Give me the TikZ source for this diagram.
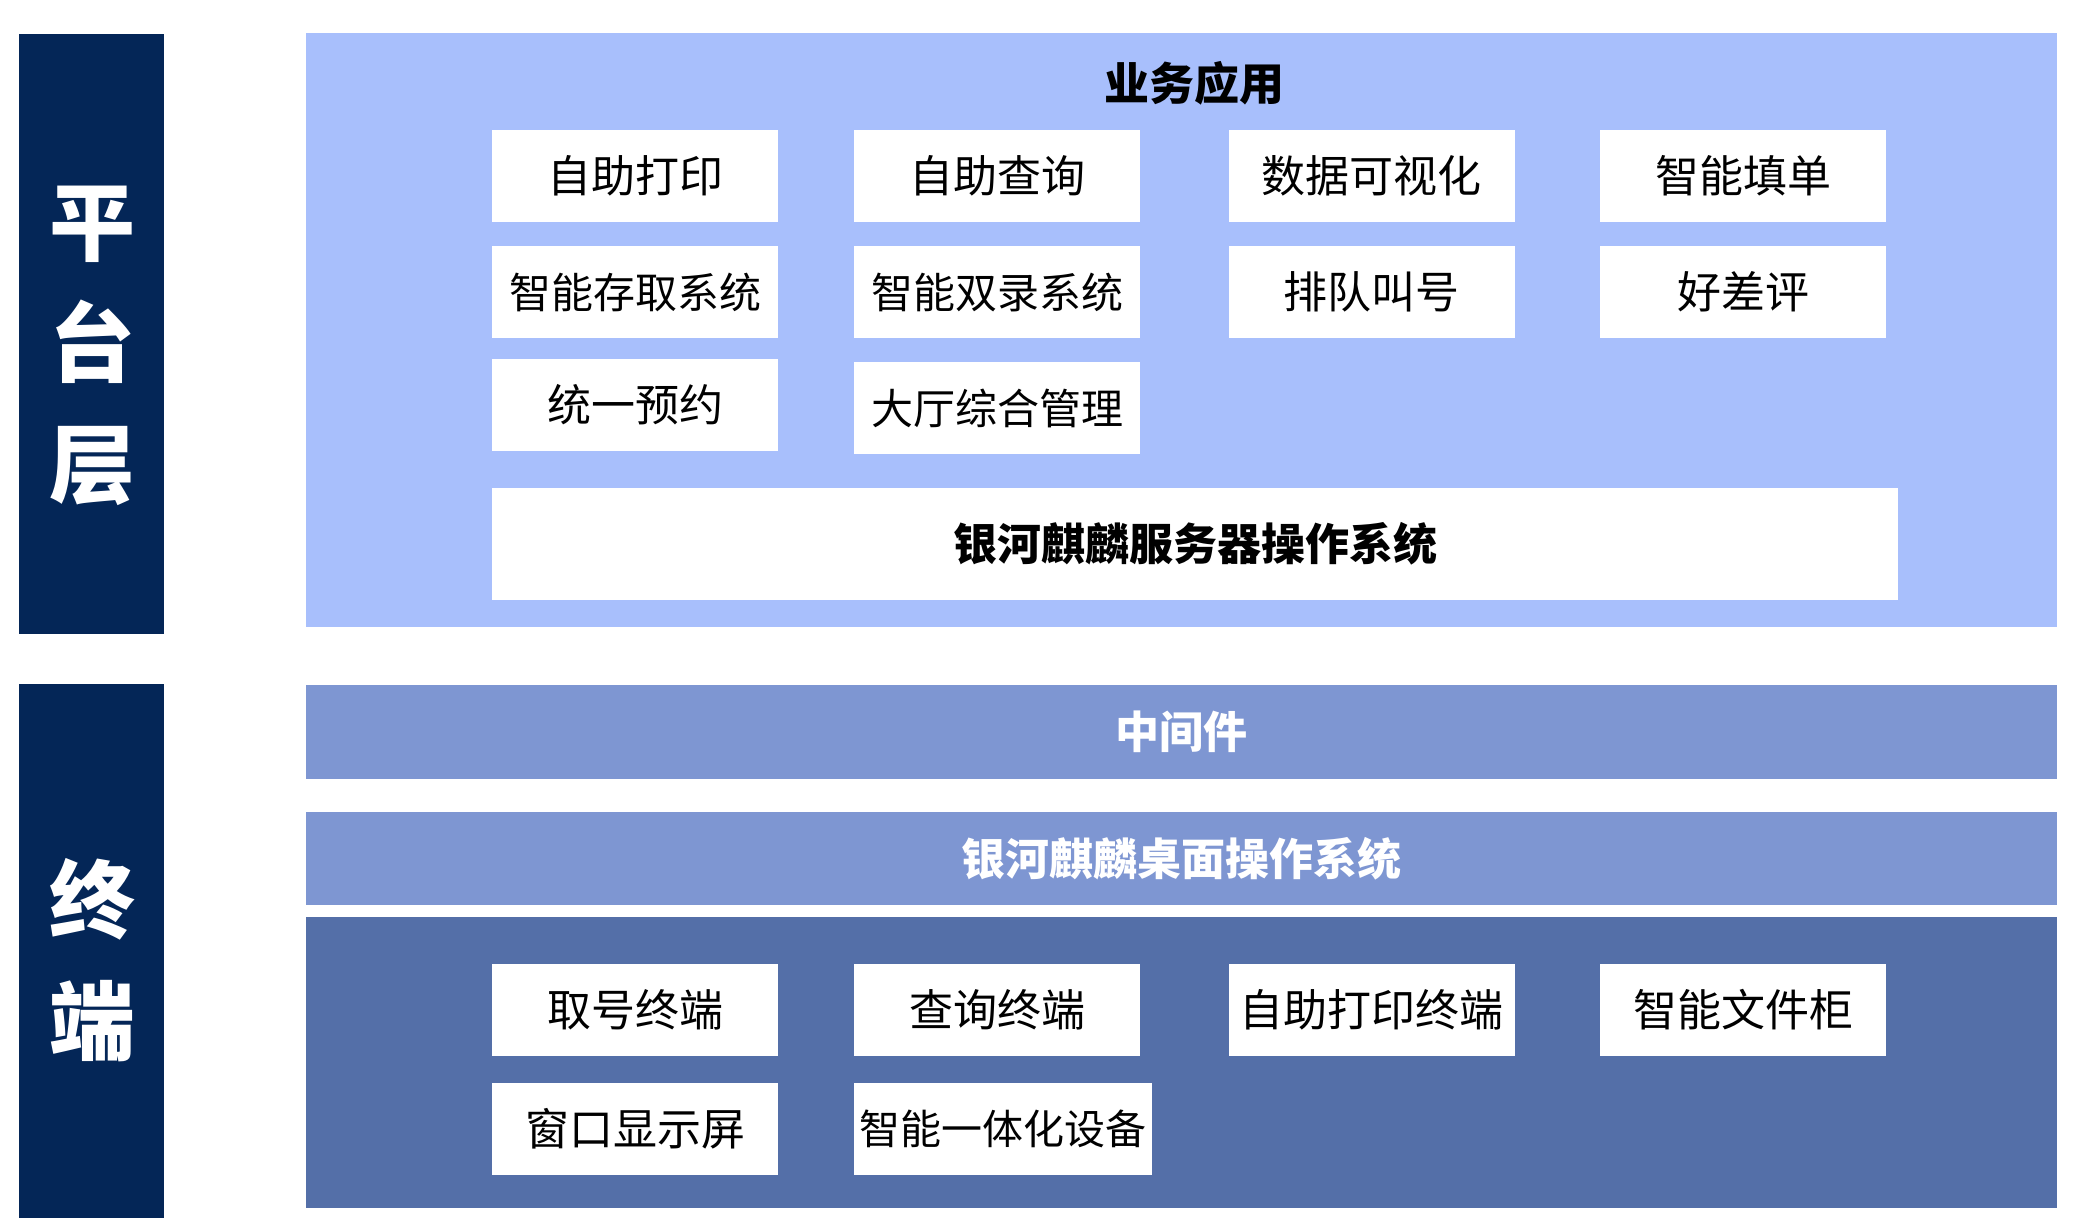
\documentclass[tikz,border=0pt]{standalone}
\usepackage{fontspec}
\setmainfont{Noto Sans CJK SC}
\definecolor{NavyBar}{RGB}{4,38,87}
\definecolor{PlatformBg}{RGB}{168,191,252}
\definecolor{MiddleBg}{RGB}{126,150,210}
\definecolor{TerminalBg}{RGB}{84,111,168}
\usetikzlibrary{positioning}

\tikzset{
  appbox/.style={fill=white, inner sep=0pt, minimum width=286pt, minimum height=92pt,
    font=\fontsize{44}{50}\selectfont},
  barlabel/.style={text=white, font=\bfseries\fontsize{44}{50}\selectfont},
  sidelabel/.style={text=white, align=center, font=\bfseries\fontsize{86}{121}\selectfont}
}

\begin{document}
\begin{tikzpicture}[x=1pt, y=-1pt]
  \useasboundingbox (0,0) rectangle (2074,1228);
  % side bars
  \fill[NavyBar] (18.5,34) rectangle (164,634);
  \fill[NavyBar] (18.5,684) rectangle (164,1218);
  \node[sidelabel] (platform) at (92,346) {平\\台\\层};
  \node[sidelabel] (terminal) at (92,960) {终\\端};
  % layer backgrounds
  \fill[PlatformBg] (305.5,33) rectangle (2057,627);
  \fill[MiddleBg] (305.5,685) rectangle (2057,779);
  \fill[MiddleBg] (305.5,812) rectangle (2057,905);
  \fill[TerminalBg] (305.5,917) rectangle (2057,1208);
  % business applications
  \node[font=\bfseries\fontsize{45}{50}\selectfont] (bizApp) at (1194,83) {业务应用};
  \node[appbox] (selfPrint) at (635,176) {自助打印};
  \node[appbox] (selfQuery) at (997,176) {自助查询};
  \node[appbox] (dataVis) at (1371.5,176) {数据可视化};
  \node[appbox] (smartForm) at (1743,176) {智能填单};
  \node[appbox, font=\fontsize{42}{50}\selectfont] (smartStore) at (635,292) {智能存取系统};
  \node[appbox, font=\fontsize{42}{50}\selectfont] (dualRec) at (997,292) {智能双录系统};
  \node[appbox] (queueCall) at (1371.5,292) {排队叫号};
  \node[appbox] (rating) at (1743,292) {好差评};
  \node[appbox] (booking) at (635,405) {统一预约};
  \node[appbox, font=\fontsize{42}{50}\selectfont] (hallMgmt) at (997,408) {大厅综合管理};
  \node[appbox, minimum width=1406pt, minimum height=112pt,
    font=\bfseries\fontsize{44}{50}\selectfont] (serverOS) at (1195,544) {银河麒麟服务器操作系统};
  % middle layers
  \node[barlabel] (middleware) at (1181,732) {中间件};
  \node[barlabel] (desktopOS) at (1181,858.5) {银河麒麟桌面操作系统};
  % terminals
  \node[appbox] (ticketTerm) at (635,1010) {取号终端};
  \node[appbox] (queryTerm) at (997,1010) {查询终端};
  \node[appbox] (printTerm) at (1371.5,1010) {自助打印终端};
  \node[appbox] (fileCab) at (1743,1010) {智能文件柜};
  \node[appbox] (winScreen) at (635,1129) {窗口显示屏};
  \node[appbox, minimum width=298pt, font=\fontsize{41}{50}\selectfont] (allInOne) at (1003,1129) {智能一体化设备};
\end{tikzpicture}
\end{document}
